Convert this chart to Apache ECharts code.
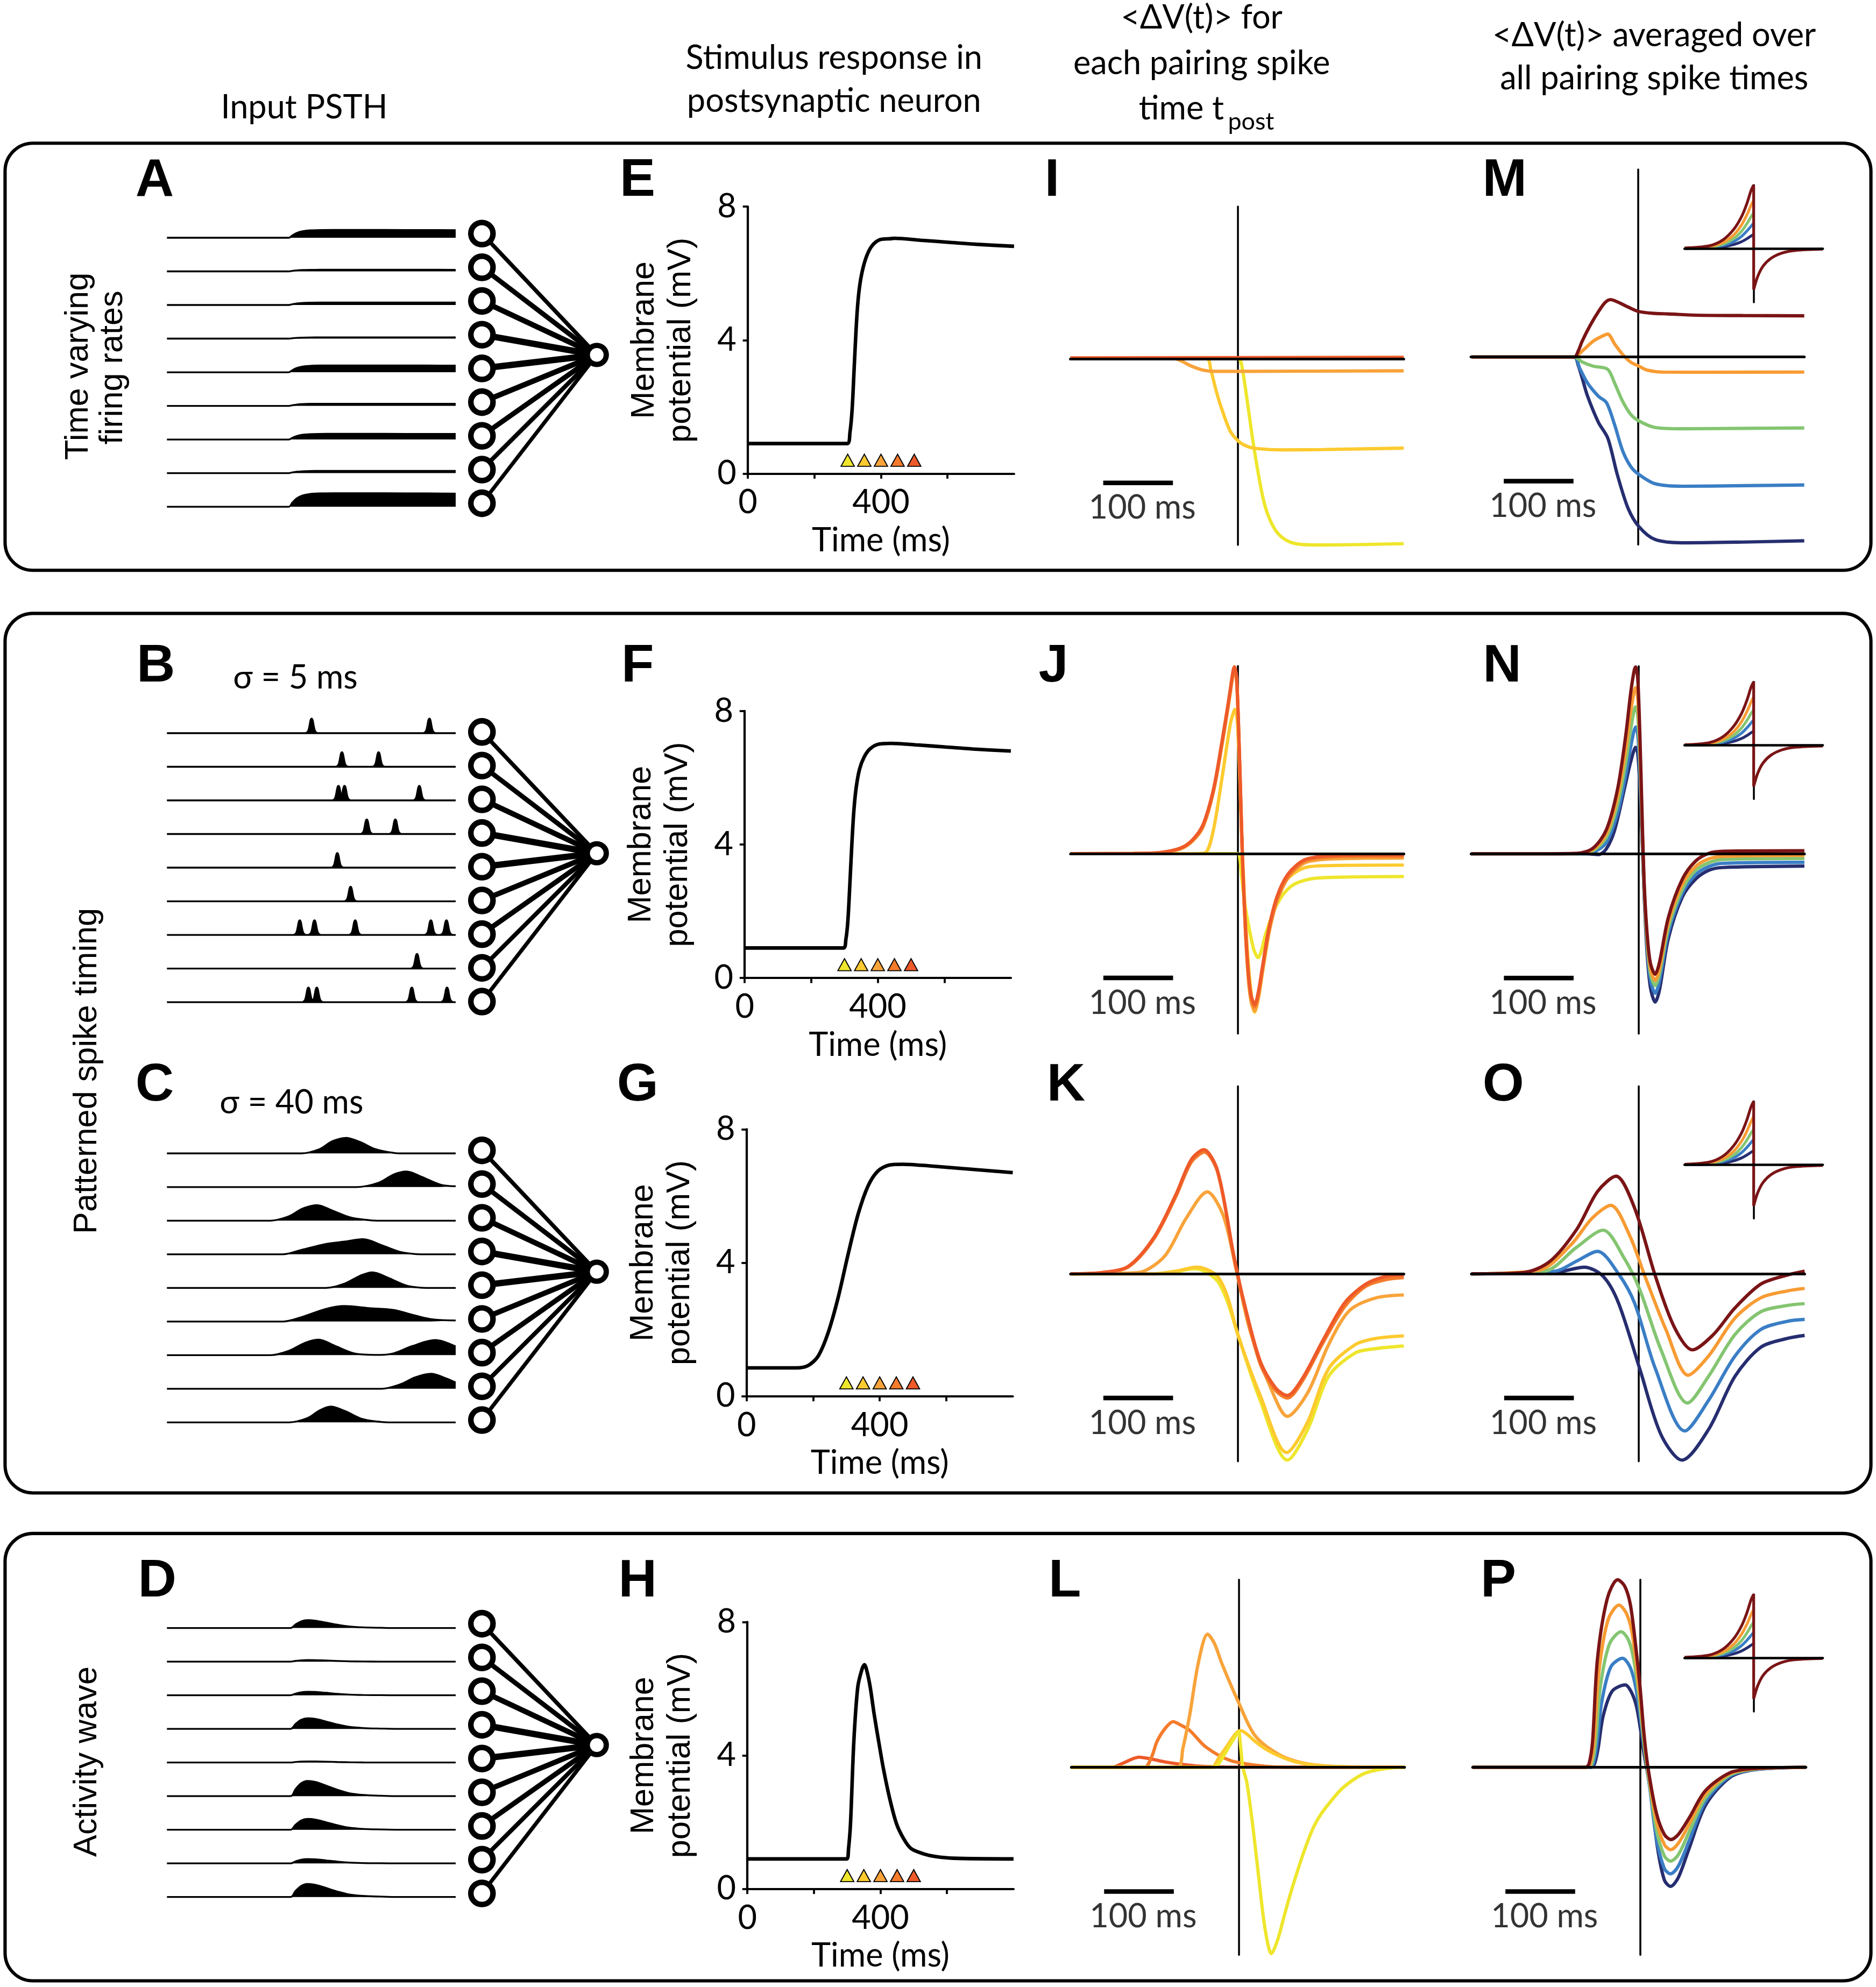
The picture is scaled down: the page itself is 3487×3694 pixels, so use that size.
<!DOCTYPE html>
<html><head><meta charset="utf-8">
<script src="https://cdn.jsdelivr.net/npm/echarts@6/dist/echarts.min.js"></script>
<style>html,body{margin:0;padding:0;background:#fff}#c{width:3487px;height:3694px}</style>
</head><body><div id="c"></div>
<script>
// ================= DATA =================
const SPIKE_COLORS = ['#EEE62C','#FDCA2F','#F8A33A','#F47B2B','#EE5A29']; // pairing spike times (yellow -> red)
const AVG_COLORS   = ['#7A1416','#F89B33','#84C571','#3A7EC5','#262E70'];   // averaged curves

// Panel A: time varying rates (x in % of window, rate heights)
const A_SHAPE_X = [0, 42.2, 43.5, 45, 47, 49.5, 53, 58, 75, 90, 100];
const A_SHAPE_Y = [0, 0, 0.32, 0.62, 0.83, 0.94, 0.985, 1, 0.995, 0.985, 0.97];
const A_RATE = [6.2, 1.3, 2.0, 1.0, 5.4, 1.7, 4.5, 1.8, 10.7];

// Panel B: sigma = 5 ms spike bumps (centres in % of window)
const B_SPIKES = [[50.1, 90.9],[60.6, 73.3],[59.4, 61.5, 87.4],[69.2, 79.1],[59.0],[63.6],
                  [46.0, 51.1, 65.2, 91.4, 96.8],[86.6],[49.0, 51.9, 84.8, 97.0]];
const B_BUMP_DX = [-2, -1.2, -0.7, -0.35, 0, 0.35, 0.7, 1.2, 2];
const B_BUMP_Y  = [0, 0.15, 0.55, 0.9, 1, 0.9, 0.55, 0.15, 0];
const B_HEIGHT = 11.5;

// Panel C: sigma = 40 ms PSTHs
const C_TRACES = [
 [[0,0],[46.5,0],[52.9,3.4],[57.2,9.5],[62,12.3],[66.8,9.1],[72.2,3.4],[78.6,0.4],[82,0],[100,0]],
 [[0,0],[65.8,0],[73.3,3.4],[78.6,10],[82.9,12.3],[88.2,8.1],[94.7,1.9],[100,0.6]],
 [[0,0],[35.8,0],[42.2,3.4],[47,9.5],[51.9,12.3],[57.2,8.1],[63.6,2.5],[70,0.4],[74,0],[100,0]],
 [[0,0],[40.1,0],[46.5,3.4],[55.1,8.1],[61.5,10],[67.9,11.9],[74.3,7.2],[80.7,1.9],[85,0.4],[88,0],[100,0]],
 [[0,0],[55,0],[61.5,3.4],[66.8,9.5],[71.1,12.3],[76.5,8.1],[82.9,1.9],[87.2,0.3],[90,0],[100,0]],
 [[0,0],[40.1,0],[46.5,3.4],[55.1,10],[61.5,12.3],[70,10.6],[78.6,9.1],[85,5.3],[91.4,1.9],[100,0.8]],
 [[0,0],[35.8,0],[42.2,3.4],[47.6,9.5],[52.4,12.3],[58.3,7.2],[64.7,1.5],[70,0.3],[74,0.2],[78.6,1.5],[85,7.2],[93,11.9],[100,6.8]],
 [[0,0],[74.3,0],[80.7,3.4],[86.1,9.1],[91.4,11.9],[96.8,8.1],[100,4.9]],
 [[0,0],[42.2,0],[48.7,3.4],[52.9,9.5],[56.7,12.5],[61.5,9.1],[67.9,2.5],[74.3,0.3],[78,0],[100,0]]
];

// Panel D: activity wave
const D_SHAPE_X = [0, 42.8, 44.5, 46.5, 48.7, 51.5, 55, 59, 63, 68, 74, 80, 100];
const D_SHAPE_Y = [0, 0, 0.45, 0.85, 1, 0.93, 0.7, 0.42, 0.2, 0.08, 0.03, 0, 0];
const D_RATE = [6.2, 1.3, 2.8, 8.4, 0.9, 12, 8.6, 3.4, 10.3];

// Network drawing: synapse line widths, output node level
const NET_W = [3.2, 3.8, 4.2, 5, 5, 4.2, 4, 3.4, 3];
const NET_OUT = 3.6;

// Stimulus responses E-H  [time ms, mV]
const E_DATA = [[0,0.9],[298.6,0.9],[306.8,1.23],[313.4,1.93],[319.2,3.1],[325,4.27],[330,5.05],[335.7,5.6],[344,6.07],[356.3,6.5],[372.8,6.82],[397.6,7.01],[430.5,7.04],[440,7.05],[521,6.99],[604,6.93],[686,6.87],[800,6.81]];
const F_DATA = [[0,0.9],[297,0.9],[304,1.15],[310,1.7],[316,2.8],[322,4.0],[328,5.0],[335,5.7],[345,6.25],[358,6.6],[375,6.85],[400,7.0],[440,7.03],[521,6.98],[604,6.92],[686,6.86],[800,6.8]];
const G_DATA = [[0,0.85],[150,0.85],[185,0.92],[215,1.2],[245,1.9],[275,2.95],[305,4.25],[335,5.45],[365,6.3],[395,6.75],[430,6.93],[470,6.95],[550,6.9],[650,6.82],[800,6.7]];
const H_DATA = [[0,0.9],[299,0.9],[304,1.2],[310,1.96],[320,4.42],[332,6.06],[345,6.6],[352,6.72],[360,6.5],[370,6.0],[381,5.24],[395,4.4],[409,3.6],[428,2.7],[448,1.96],[470,1.5],[492,1.21],[530,1.05],[566,0.97],[620,0.92],[800,0.9]];
const TRI_T = [300, 350, 400, 450, 500];
const TRI_V = 0.4;
const STIM_X_TICKS = [0, 200, 400, 600];
const STIM_X_LABELS = [0, 400];

// <dV(t)> for each pairing spike time (I, J, K, L)  [ms, a.u.]
const I_YELLOW = [[-240,0],[0,0],[4.7,-0.28],[12.6,-2.96],[20.5,-6.05],[28.3,-8.72],[36.2,-10.99],[44,-12.43],[55.8,-13.67],[71.6,-14.39],[91.3,-14.66],[122.8,-14.7],[238,-14.6]];
const I_GOLD   = [[-240,0],[-44.5,0],[-38.6,-0.9],[-30.7,-2.6],[-22.8,-4.0],[-11,-5.7],[0.8,-6.5],[12.6,-6.9],[28.3,-7.1],[63.8,-7.2],[122,-7.17],[238,-7.06]];
const I_ORANGE = [[-240,0],[-91.7,0],[-81.9,-0.16],[-66,-0.6],[-50,-0.9],[-34.6,-1.0],[5,-1.0],[238,-0.96]];
const I_DORANGE= [[-240,0.02],[238,0.02]];
const I_RED    = [[-240,0.06],[238,0.1]];

const J_RED    = [[-240,0],[-150,0.02],[-110,0.1],[-82,0.45],[-65,1.1],[-50,2.3],[-35,5.1],[-23,8.8],[-13,12.2],[-7,14.4],[-5,14.75],[-2,14.0],[1,10],[4,4.5],[7,-1],[11,-6.0],[15,-9.4],[19,-11.2],[24,-11.9],[29,-11.0],[35,-9.0],[44,-6.0],[56,-3.4],[72,-1.6],[95,-0.5],[123,-0.2],[180,-0.1],[238,-0.1]];
const J_DORANGE= [[-240,0],[-150,0.02],[-110,0.1],[-82,0.42],[-65,1.05],[-50,2.2],[-35,5.0],[-23,8.7],[-13,12.1],[-7,14.3],[-5,14.6],[-2,13.9],[1,9.9],[4,4.4],[7,-1.1],[11,-6.2],[15,-9.6],[19,-11.4],[24,-12.1],[29,-11.2],[35,-9.2],[44,-6.2],[56,-3.6],[72,-1.8],[95,-0.6],[123,-0.3],[180,-0.2],[238,-0.2]];
const J_ORANGE = [[-240,0],[-150,0.01],[-110,0.08],[-82,0.38],[-65,1.0],[-50,2.1],[-35,4.9],[-23,8.5],[-13,11.9],[-7,14.1],[-5,14.3],[-2,13.7],[1,9.7],[4,4.3],[7,-1.2],[11,-6.4],[15,-9.9],[19,-11.7],[24,-12.4],[29,-11.5],[35,-9.4],[44,-6.4],[56,-3.8],[72,-1.9],[95,-0.75],[123,-0.45],[180,-0.36],[238,-0.35]];
const J_GOLD   = [[-240,0],[-60,0],[-46,0.1],[-35,1.9],[-23,5.9],[-11,10.2],[-6,11.2],[-4,11.4],[-1,10.5],[2,7],[5,2.1],[9,-3],[13,-7.1],[18,-10.5],[24,-12.5],[30,-11.2],[36,-9.1],[52,-4.2],[68,-2.2],[91,-1.2],[120,-0.95],[238,-0.9]];
const J_YELLOW = [[-240,0],[0,0],[3,-0.5],[5,-1.6],[10,-4],[16.5,-6.0],[23,-7.6],[29,-8.2],[34,-7.6],[40,-6.3],[56,-4.0],[75.6,-2.6],[103,-2.0],[150,-1.85],[238,-1.8]];

const K_RED    = [[-240,0],[-195,0.1],[-157,0.6],[-120,2.9],[-89,6.25],[-67,9.0],[-49,9.8],[-29,8.1],[-6,1.46],[9,-2.3],[32,-6.9],[54,-9.0],[71,-9.6],[92,-8.3],[122.5,-5.2],[153,-2.3],[183,-0.83],[213,-0.2],[238,-0.1]];
const K_DORANGE= [[-240,0],[-195,0.1],[-157,0.55],[-120,2.8],[-89,6.1],[-67,8.8],[-48,9.6],[-29,8.0],[-6,1.4],[9,-2.4],[32,-7.1],[54,-9.2],[71,-9.8],[92,-8.5],[122.5,-5.4],[153,-2.6],[183,-1.0],[213,-0.45],[238,-0.3]];
const K_ORANGE = [[-240,0],[-160,0.05],[-135,0.2],[-104,1.46],[-74,4.4],[-44,6.46],[-21,4.6],[-2,0.2],[17,-4.4],[47,-9.0],[71,-11.25],[100,-9.4],[130,-5.6],[160,-2.9],[198,-1.9],[238,-1.67]];
const K_GOLD   = [[-240,0],[-120,0],[-90,0.2],[-59,0.52],[-45,0.35],[-29,-0.2],[-15,-1.8],[0,-4.8],[32,-9.6],[70,-14.1],[100,-11.7],[130,-7.5],[168,-5.6],[198,-5.1],[238,-4.9]];
const K_YELLOW = [[-240,0],[-120,0],[-90,0.15],[-63,0.4],[-48,0.2],[-29,-0.6],[-15,-2.2],[0,-4.8],[32,-10.0],[71,-14.7],[100,-12.3],[130,-8.1],[168,-6.25],[198,-5.9],[238,-5.7]];

const L_RED    = [[-240,0],[-182,0],[-165,0.35],[-143,0.8],[-125,0.65],[-106,0.43],[-80,0.22],[-59,0.1],[-20,0.02],[238,0]];
const L_DORANGE= [[-240,0],[-135,0],[-125,0.8],[-117,2.05],[-105,3.1],[-94,3.6],[-82,3.3],[-70,2.9],[-47,1.6],[-12,0.54],[35,0.1],[80,0],[238,0]];
const L_ORANGE = [[-240,0],[-88,0],[-80,1.5],[-70,4.2],[-58,8.2],[-44.6,10.5],[-35,9.8],[-23.5,8.1],[0,5.1],[23.5,2.5],[59,0.97],[94,0.32],[141,0.06],[238,0]];
const L_GOLD   = [[-240,0],[-39,0],[-28,0.8],[-17.6,1.6],[-5,2.6],[2.3,2.9],[10,2.7],[23.5,2.05],[40,1.4],[59,0.87],[80,0.45],[106,0.2],[150,0.03],[238,0]];
const L_YELLOW = [[-240,0],[-35,0],[-25,0.6],[-12,1.8],[-3,2.6],[0,2.8],[3,1.5],[6,0],[11.7,-1.2],[20,-4.5],[29,-8.8],[38,-12.8],[47,-14.7],[56,-13.6],[64,-12.0],[72,-10.4],[82,-8.6],[94,-6.6],[106,-4.9],[118,-3.7],[129,-2.9],[146,-1.8],[164,-1.0],[182,-0.45],[200,-0.2],[220,-0.05],[238,0]];

// <dV(t)> averaged over all pairing spike times (M, N, O, P)
const M_DARKRED= [[-239,0],[-92,0],[-86,0.5],[-80.6,1.24],[-69,2.5],[-57,3.6],[-47.6,4.3],[-40,4.53],[-30,4.35],[-15,3.95],[0,3.6],[20,3.45],[43,3.4],[82,3.3],[150,3.27],[238,3.25]];
const M_ORANGE = [[-239,0],[-92,0],[-80,0.5],[-65,1.24],[-53.5,1.6],[-44,1.81],[-34,1.03],[-22.5,0.2],[-10.8,-0.41],[0.8,-0.72],[12.4,-1.03],[35.6,-1.19],[100,-1.2],[238,-1.19]];
const M_GREEN  = [[-239,0],[-92,0],[-80,-0.41],[-65,-0.72],[-44,-0.97],[-34,-2.06],[-22.5,-3.5],[-10.8,-4.53],[0.8,-5.04],[24,-5.56],[62.8,-5.66],[150,-5.63],[238,-5.6]];
const M_BLUE   = [[-239,0],[-92,0],[-84,-0.9],[-72.8,-2.06],[-57.3,-3.09],[-45.7,-3.6],[-34,-5.35],[-22.5,-7.4],[-10.8,-8.65],[0.8,-9.27],[24,-10.0],[62.8,-10.2],[150,-10.15],[238,-10.1]];
const M_NAVY   = [[-239,0],[-92,0],[-86,-0.7],[-80.6,-1.65],[-72.8,-3.09],[-57.3,-5.15],[-43.8,-6.4],[-30.2,-9.27],[-14.7,-11.94],[0.8,-13.38],[24,-14.4],[62.8,-14.66],[150,-14.6],[238,-14.5]];

const N_DARKRED= [[-240,0],[-150,0],[-88,0.04],[-65,0.45],[-46,1.9],[-30,5.1],[-18.6,9.2],[-10.9,12.8],[-6,14.5],[-4,14.75],[-1,13.8],[2,9.5],[5,3.5],[8,-2],[12,-6],[17,-8.6],[24,-9.5],[30,-8.6],[43,-5.0],[63,-2.0],[82,-0.57],[101,0.04],[121,0.2],[238,0.24]];
const N_ORANGE = [[-240,0],[-90,0],[-65,0.35],[-46,1.6],[-30,4.5],[-18.6,8.1],[-10.9,11.3],[-4,13.1],[-1,12.3],[2,8.5],[5,3],[8,-2.2],[12,-6.3],[17,-9.0],[24,-10.0],[30,-9.1],[43,-5.4],[63,-2.4],[82,-1.0],[101,-0.4],[121,-0.2],[238,-0.12]];
const N_GREEN  = [[-240,0],[-85,0],[-65,0.25],[-46,1.3],[-30,3.9],[-18.6,7.1],[-10.9,9.9],[-4,11.6],[-1,10.9],[2,7.5],[5,2.5],[8,-2.4],[12,-6.6],[17,-9.4],[24,-10.4],[30,-9.5],[43,-5.8],[63,-2.8],[82,-1.3],[101,-0.7],[121,-0.45],[238,-0.37]];
const N_BLUE   = [[-240,0],[-80,0],[-65,0.1],[-46,0.9],[-30,3.2],[-18.6,6.1],[-10.9,8.5],[-4,10],[-1,9.4],[2,6.4],[5,2],[8,-2.7],[12,-7],[17,-9.9],[24,-11.0],[30,-10.1],[43,-6.2],[63,-3.1],[82,-1.65],[101,-1.0],[121,-0.75],[238,-0.67]];
const N_NAVY   = [[-240,0],[-75,0],[-57,-0.06],[-46,0.4],[-34,1.9],[-18.6,5.5],[-10.9,7.3],[-4,8.4],[-1,7.9],[2,5.3],[5,1.5],[8,-3],[12,-7.5],[17,-10.5],[24,-11.7],[30,-10.8],[43,-6.65],[63,-3.4],[82,-2.0],[101,-1.3],[121,-1.08],[238,-0.97]];

const O_DARKRED= [[-240,0],[-165,0.1],[-127,1.0],[-89,3.5],[-59,6.5],[-32.5,7.7],[-6,5.2],[24,-0.2],[51,-4.2],[77,-6.0],[107,-4.8],[138,-2.7],[175.5,-0.8],[213,-0.1],[238,0.2]];
const O_ORANGE = [[-240,0],[-142,0.3],[-97,2.3],[-66.6,4.4],[-40,5.4],[-13.6,3.1],[9,-0.2],[39,-4.4],[71,-8.0],[100,-6.5],[138,-3.5],[175,-1.9],[213,-1.35],[238,-1.15]];
const O_GREEN  = [[-240,0],[-135,0.2],[-89,2.1],[-51,3.44],[-21,1.25],[1.5,-1.25],[32,-6.0],[70,-10.2],[100,-8.1],[138,-4.8],[175,-3.0],[213,-2.5],[238,-2.35]];
const O_BLUE   = [[-240,0],[-120,0.2],[-89,1.0],[-59,1.77],[-29,0],[-6,-2.3],[24,-7.5],[66,-12.4],[100,-10.0],[138,-6.5],[175,-4.4],[213,-3.75],[238,-3.6]];
const O_NAVY   = [[-240,0],[-120,0.1],[-78,0.52],[-51,-0.2],[-29,-2.3],[1.5,-7.5],[32,-12.7],[62,-14.7],[100,-12.3],[138,-8.1],[175,-5.8],[213,-5.1],[238,-4.86]];

const P_DARKRED= [[-240,0],[-78,0],[-73,0.3],[-68,2.06],[-61,8.55],[-47,13.3],[-32,14.8],[-22,14.3],[-14,12.9],[-7,10],[0,6.4],[6,2.5],[11.7,-0.1],[23.5,-3.6],[35,-5.3],[44.6,-5.7],[55,-5.3],[70.5,-4.0],[94,-1.84],[129,-0.43],[164,-0.1],[238,0]];
const P_ORANGE = [[-240,0],[-76,0],[-71,0.3],[-66,2],[-59,7.5],[-46,11.6],[-30,12.8],[-20,12.2],[-12,10.8],[-5,8],[1,5],[7,1.8],[12,-0.4],[23.5,-4.2],[35,-6.1],[44,-6.5],[55,-6.0],[70.5,-4.5],[94,-2.1],[129,-0.5],[164,-0.12],[238,0]];
const P_GREEN  = [[-240,0],[-74,0],[-69,0.3],[-64,1.9],[-57,6.3],[-44,9.7],[-27,10.7],[-17,10.1],[-10,8.8],[-3,6.3],[3,3.3],[8,0.8],[13,-1],[23.5,-4.9],[35,-7.0],[44,-7.4],[55,-6.9],[70.5,-5.1],[94,-2.4],[129,-0.6],[164,-0.15],[238,0]];
const P_BLUE   = [[-240,0],[-72,0],[-67,0.3],[-62,1.7],[-55,5.1],[-42,7.9],[-25,8.6],[-15,8.0],[-8,6.8],[-1,4.6],[5,2],[10,0],[14,-1.6],[23.5,-5.6],[35,-8.0],[44,-8.4],[55,-7.8],[70.5,-5.8],[94,-2.7],[129,-0.7],[164,-0.18],[238,0]];
const P_NAVY   = [[-240,0],[-70,0],[-65,0.3],[-60,1.5],[-53,4.0],[-40,6.0],[-21,6.5],[-12,5.9],[-5,4.8],[1,2.9],[6,1.0],[11,-0.5],[16,-2.2],[25,-6.3],[35,-8.9],[44,-9.4],[55,-8.7],[70.5,-6.4],[94,-3.0],[129,-0.8],[164,-0.2],[238,0]];

// Inset learning windows
const INSET_T = [-50, -32, -22.4, -14.6, -8.8, -4.9, -1.9, 0];
const INSET_LTP = [
  [0.3, 2.1, 6.6, 14.8, 25, 35.4, 45.7, 50],   // dark red
  [0.2, 1.5, 4.6, 10.5, 18.5, 26.5, 34, 38],   // orange
  [0.1, 1.0, 3.3, 7.6, 13.5, 19.5, 25, 28],    // green
  [0, 0.7, 2.3, 5.3, 9.5, 13.7, 17.5, 20],     // blue
  [0, 0.4, 1.3, 3.0, 5.3, 7.6, 9.8, 11]        // navy
];
const INSET_LTD_T = [0, 2.9, 6.8, 12.6, 20.4, 30.2, 50];
const INSET_LTD = [-32.5, -22.2, -14, -7.8, -3.7, -1.6, -0.6];

const SCALEBAR_T = [-193, -93];
const SCALEBAR_V = -9.8;

// ================= LAYOUT / BUILD =================
const S = 3487 / 1480;
const px = v => v * S;
const FONT = 'Lato, "Noto Sans", sans-serif';
const ARIAL = '"Liberation Sans", Arial, sans-serif';

const grids = [], xAxes = [], yAxes = [], series = [], graphics = [];
function addGrid(l, t, w, h, xa, ya) {
  const i = grids.length;
  grids.push({left: px(l), top: px(t), width: px(w), height: px(h), containLabel: false, show: false});
  xa.gridIndex = i; ya.gridIndex = i;
  xAxes.push(xa); yAxes.push(ya);
  return i;
}
const hidden = (min, max, inverse) => ({type: 'value', min, max, show: false, inverse: !!inverse, splitLine: {show: false}});

// ---- PSTH panels ----
const SP = 26.53;
function psthGrid(base1) {
  return addGrid(131.7, base1 - 16, 227.8, 8 * SP + 16, hidden(0, 100), hidden(0, 8 * SP + 16));
}
function psthSeries(g, pts, off, smooth) {
  series.push({type: 'line', xAxisIndex: g, yAxisIndex: g, silent: true, clip: false,
    data: pts.map(p => [p[0], off + p[1]]), symbol: 'none', smooth: smooth === undefined ? 0.3 : smooth,
    lineStyle: {color: '#000', width: px(1.4)}, areaStyle: {color: '#000', opacity: 1, origin: off}, z: 2});
}
// A
{ const g = psthGrid(187.6);
  A_RATE.forEach((r, i) => psthSeries(g, A_SHAPE_X.map((x, k) => [x, r * A_SHAPE_Y[k]]), (8 - i) * SP)); }
// B
{ const g = psthGrid(578.5);
  B_SPIKES.forEach((sp, i) => {
    const off = (8 - i) * SP;
    psthSeries(g, [[0, 0], [100, 0]], off, false);
    sp.forEach(c => psthSeries(g, B_BUMP_DX.map((d, k) => [c + d, B_HEIGHT * B_BUMP_Y[k]]), off, 0.4));
  }); }
// C
{ const g = psthGrid(910.1);
  C_TRACES.forEach((tr, i) => psthSeries(g, tr, (8 - i) * SP, 0.35)); }
// D
{ const g = psthGrid(1284.6);
  D_RATE.forEach((r, i) => psthSeries(g, D_SHAPE_X.map((x, k) => [x, r * D_SHAPE_Y[k]]), (8 - i) * SP, 0.35)); }

// ---- Networks ----
function network(top) {
  const g = addGrid(380.2, top, 90.6, 8 * 26.6, hidden(0, 1), hidden(0, 8, true));
  NET_W.forEach((w, i) => series.push({type: 'line', xAxisIndex: g, yAxisIndex: g, silent: true, clip: false, symbol: 'none',
    data: [[0, i], [1, NET_OUT]], lineStyle: {color: '#000', width: px(w)}, z: 2}));
  series.push({type: 'scatter', xAxisIndex: g, yAxisIndex: g, silent: true, clip: false,
    data: NET_W.map((w, i) => [0, i]), symbol: 'circle', symbolSize: px(17.5),
    itemStyle: {color: '#fff', borderColor: '#000', borderWidth: px(4.4), opacity: 1}, z: 3});
  series.push({type: 'scatter', xAxisIndex: g, yAxisIndex: g, silent: true, clip: false,
    data: [[1, NET_OUT]], symbol: 'circle', symbolSize: px(15),
    itemStyle: {color: '#fff', borderColor: '#000', borderWidth: px(4.2), opacity: 1}, z: 3});
}
network(184.3); network(577.5); network(907.7); network(1281.2);

// ---- Stimulus response panels ----
function stimPanel(left, top, data) {
  const axLine = {color: '#000', width: px(1.8)};
  const g = addGrid(left, top, 210, 210.7,
    {type: 'value', min: 0, max: 800, name: 'Time (ms)', nameLocation: 'middle', nameGap: px(40),
     nameTextStyle: {fontSize: px(26), fontFamily: FONT, color: '#000'},
     axisLine: {show: true, onZero: false, lineStyle: axLine},
     axisTick: {show: true, length: px(4), customValues: STIM_X_TICKS, lineStyle: {color: '#000', width: px(1.6)}},
     axisLabel: {customValues: STIM_X_LABELS, fontSize: px(26), color: '#000', margin: px(10), fontFamily: FONT},
     splitLine: {show: false}},
    {type: 'value', min: 0, max: 8, interval: 4, name: 'Membrane\npotential (mV)', nameLocation: 'middle', nameRotate: 90, nameGap: px(38),
     nameTextStyle: {fontSize: px(26), fontFamily: ARIAL, lineHeight: px(29), color: '#000'},
     axisLine: {show: true, onZero: false, lineStyle: axLine},
     axisTick: {show: true, length: px(4), lineStyle: {color: '#000', width: px(1.6)}},
     axisLabel: {fontSize: px(26), color: '#000', margin: px(9), fontFamily: FONT},
     splitLine: {show: false}});
  series.push({type: 'line', xAxisIndex: g, yAxisIndex: g, data, symbol: 'none', smooth: 0.3, clip: false, silent: true,
    lineStyle: {color: '#000', width: px(2.8)}, z: 2});
  series.push({type: 'scatter', xAxisIndex: g, yAxisIndex: g, silent: true, clip: false, symbol: 'triangle',
    symbolSize: [px(10.5), px(9.5)],
    data: TRI_T.map((t, i) => ({value: [t, TRI_V], itemStyle: {color: SPIKE_COLORS[i], borderColor: '#000', borderWidth: px(0.8), opacity: 1}})), z: 3});
}
stimPanel(590, 163, E_DATA);
stimPanel(587.5, 561, F_DATA);
stimPanel(589, 891, G_DATA);
stimPanel(589.6, 1279.8, H_DATA);

// ---- Right panels ----
function rightPanel(X0, Y0, YT, YB, curves) {
  const g = addGrid(X0 - 240 * 0.55, Y0 - YT * 10, 478 * 0.55, (YT - YB) * 10,
    {type: 'value', min: -240, max: 238, axisLine: {show: true, onZero: true, lineStyle: {color: '#000', width: px(2.2)}},
     axisTick: {show: false}, axisLabel: {show: false}, splitLine: {show: false}, z: 3},
    {type: 'value', min: YB, max: YT, axisLine: {show: true, onZero: true, lineStyle: {color: '#000', width: px(1.5)}},
     axisTick: {show: false}, axisLabel: {show: false}, splitLine: {show: false}});
  curves.forEach(c => series.push({type: 'line', xAxisIndex: g, yAxisIndex: g, data: c[0], symbol: 'none', smooth: 0.3,
    clip: false, silent: true, lineStyle: {color: c[1], width: px(2.6)}, z: 2}));
  series.push({type: 'line', xAxisIndex: g, yAxisIndex: g, symbol: 'none', clip: false, silent: true,
    data: SCALEBAR_T.map(t => [t, SCALEBAR_V]), lineStyle: {color: '#000', width: px(3.6), cap: 'butt'}, z: 2});
  series.push({type: 'scatter', xAxisIndex: g, yAxisIndex: g, silent: true, clip: false, symbolSize: 0,
    data: [[(SCALEBAR_T[0] + SCALEBAR_T[1]) / 2 + 6, SCALEBAR_V]],
    label: {show: true, position: 'bottom', distance: px(7), formatter: '100 ms', fontSize: px(26), fontFamily: FONT, color: '#000'}});
}
function inset(B) {
  const g = addGrid(1329, B - 50, 109, 92.5,
    {type: 'value', min: -50, max: 50, axisLine: {show: true, onZero: true, lineStyle: {color: '#000', width: px(2)}},
     axisTick: {show: false}, axisLabel: {show: false}, splitLine: {show: false}, z: 3},
    {type: 'value', min: -42.5, max: 50, axisLine: {show: true, onZero: true, lineStyle: {color: '#000', width: px(1.5)}},
     axisTick: {show: false}, axisLabel: {show: false}, splitLine: {show: false}});
  for (let k = INSET_LTP.length - 1; k >= 0; k--) {
    let d = INSET_T.map((t, j) => [t, INSET_LTP[k][j]]);
    if (k === 0) d = d.concat(INSET_LTD_T.map((t, j) => [t, INSET_LTD[j]]));
    series.push({type: 'line', xAxisIndex: g, yAxisIndex: g, data: d, symbol: 'none', smooth: 0.3, clip: false, silent: true,
      lineStyle: {color: AVG_COLORS[k], width: px(2.2)}, z: 2});
  }
}
const SC = SPIKE_COLORS, AC = AVG_COLORS;
rightPanel(976.5, 283, 12.0, -14.7, [[I_YELLOW, SC[0]], [I_GOLD, SC[1]], [I_ORANGE, SC[2]], [I_DORANGE, SC[3]], [I_RED, SC[4]]]);
rightPanel(976.6, 673.6, 14.8, -14.2, [[J_YELLOW, SC[0]], [J_GOLD, SC[1]], [J_ORANGE, SC[2]], [J_DORANGE, SC[3]], [J_RED, SC[4]]]);
rightPanel(976.6, 1005.1, 14.8, -14.8, [[K_YELLOW, SC[0]], [K_GOLD, SC[1]], [K_ORANGE, SC[2]], [K_DORANGE, SC[3]], [K_RED, SC[4]]]);
rightPanel(977.2, 1394.5, 14.8, -14.8, [[L_RED, SC[4]], [L_DORANGE, SC[3]], [L_ORANGE, SC[2]], [L_GOLD, SC[1]], [L_YELLOW, SC[0]]]);
rightPanel(1292.5, 281.7, 14.8, -14.8, [[M_NAVY, AC[4]], [M_BLUE, AC[3]], [M_GREEN, AC[2]], [M_ORANGE, AC[1]], [M_DARKRED, AC[0]]]);
rightPanel(1292.6, 673.7, 14.8, -14.2, [[N_NAVY, AC[4]], [N_BLUE, AC[3]], [N_GREEN, AC[2]], [N_ORANGE, AC[1]], [N_DARKRED, AC[0]]]);
rightPanel(1292.8, 1005.1, 14.8, -14.8, [[O_NAVY, AC[4]], [O_BLUE, AC[3]], [O_GREEN, AC[2]], [O_ORANGE, AC[1]], [O_DARKRED, AC[0]]]);
rightPanel(1293.8, 1394.5, 14.8, -14.8, [[P_NAVY, AC[4]], [P_BLUE, AC[3]], [P_GREEN, AC[2]], [P_ORANGE, AC[1]], [P_DARKRED, AC[0]]]);
inset(196); inset(588); inset(919); inset(1308);

// ---- Text & frames ----
function txt(str, x, y, o) {
  o = o || {};
  graphics.push({type: 'text', x: px(x), y: px(y), rotation: o.rot || 0, z: 20, silent: true,
    style: {text: str, fontSize: px(o.size || 26), fontFamily: o.family || FONT, fontWeight: o.weight || 'normal',
      fill: '#000', align: o.align || 'center', verticalAlign: o.valign || 'middle'}});
}
[[4, 113, 1472, 337], [4, 484, 1472, 694], [4, 1210, 1472, 353]].forEach(b => graphics.push({
  type: 'rect', z: 1, silent: true, shape: {x: px(b[0]), y: px(b[1]), width: px(b[2]), height: px(b[3]), r: px(22)},
  style: {fill: 'none', stroke: '#000', lineWidth: px(2.6)}}));

txt('Input PSTH', 240, 85);
txt('Stimulus response in', 658, 46);
txt('postsynaptic neuron', 658, 80);
txt('<ΔV(t)> for', 948, 14);
txt('each pairing spike', 948, 50);
txt('time t', 932, 86);
txt('post', 987, 96, {size: 19});
txt('<ΔV(t)> averaged over', 1305, 28);
txt('all pairing spike times', 1305, 62);
txt('σ = 5 ms', 233, 535);
txt('σ = 40 ms', 230, 870);
txt('Time varying', 62, 289, {rot: Math.PI / 2, family: ARIAL});
txt('firing rates', 89, 290, {rot: Math.PI / 2, family: ARIAL});
txt('Patterned spike timing', 69, 845, {rot: Math.PI / 2, family: ARIAL});
txt('Activity wave', 69, 1390, {rot: Math.PI / 2, family: ARIAL});
[['A',122,143],['E',503,143],['I',830,143],['M',1187,143],
 ['B',123,526],['F',503,526],['J',831,526],['N',1185,526],
 ['C',122,857],['G',503,857],['K',841,857],['O',1186,857],
 ['D',124,1248],['H',503,1248],['L',840,1248],['P',1182,1248]].forEach(l =>
  txt(l[0], l[1], l[2], {size: 42, weight: 'bold', family: ARIAL}));

const chart = echarts.init(document.getElementById('c'), null, {renderer: 'canvas'});
chart.setOption({animation: false, backgroundColor: '#fff', textStyle: {fontFamily: FONT},
  grid: grids, xAxis: xAxes, yAxis: yAxes, series, graphic: graphics});
</script></body></html>
